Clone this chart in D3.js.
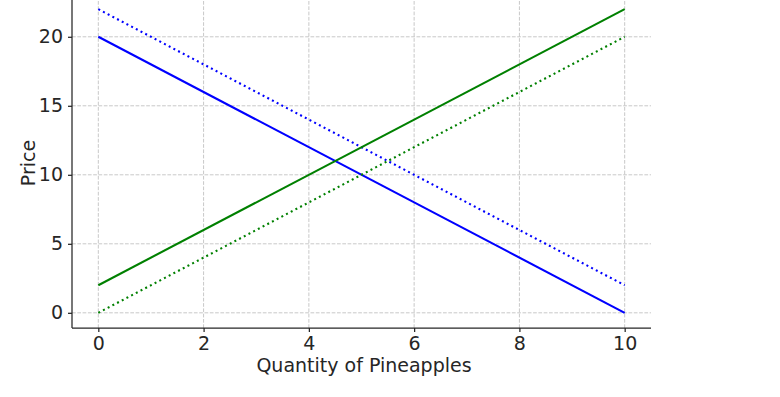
<!DOCTYPE html>
<html><head><meta charset="utf-8">
<script src="https://cdn.jsdelivr.net/npm/d3@7"></script>
<style>body{margin:0;background:#fff}svg{display:block}text{font-family:"DejaVu Sans",sans-serif;fill:#262626}</style>
</head><body><svg id="c" width="780" height="397"></svg>
<script>
const quantity = [0, 10];
const demand = [20, 0];
const demandShift = [22, 2];
const supply = [2, 22];
const supplyShift = [0, 20];
const xTicks = [0, 2, 4, 6, 8, 10];
const yTicks = [0, 5, 10, 15, 20];

const svg = d3.select("#c");
const x = d3.scaleLinear().domain([-0.5, 10.5]).range([72, 651]);
const y = d3.scaleLinear().domain([-1.1, 23.1]).range([328, -6]);

const g = svg.append("g");
// grid
g.selectAll(".gx").data(xTicks).join("line")
  .attr("x1", d => x(d)).attr("x2", d => x(d)).attr("y1", y(-1.1)).attr("y2", 0)
  .attr("stroke", "#b0b0b0").attr("stroke-opacity", 0.7).attr("stroke-dasharray", "3.7,1.6").attr("stroke-width", 1);
g.selectAll(".gy").data(yTicks).join("line")
  .attr("x1", x(-0.5)).attr("x2", x(10.5)).attr("y1", d => y(d)).attr("y2", d => y(d))
  .attr("stroke", "#b0b0b0").attr("stroke-opacity", 0.7).attr("stroke-dasharray", "3.7,1.6").attr("stroke-width", 1);

const line = d3.line().x(d => x(d[0])).y(d => y(d[1]));
const series = [
  {v: demand, c: "#0000ff", dash: null},
  {v: demandShift, c: "#0000ff", dash: "2,3.3"},
  {v: supply, c: "#008000", dash: null},
  {v: supplyShift, c: "#008000", dash: "2,3.3"}
];
series.forEach(s => {
  g.append("path").datum(quantity.map((q, i) => [q, s.v[i]]))
    .attr("d", line).attr("fill", "none").attr("stroke", s.c).attr("stroke-width", 2.1)
    .attr("stroke-dasharray", s.dash);
});

// axes
const xAxis = d3.axisBottom(x).tickValues(xTicks).tickSize(4).tickPadding(5).tickFormat(d3.format("d"));
const yAxis = d3.axisLeft(y).tickValues(yTicks).tickSize(4).tickPadding(5).tickFormat(d3.format("d"));
const ax = svg.append("g").attr("transform", `translate(0,${y(-1.1)})`).call(xAxis);
const ay = svg.append("g").attr("transform", `translate(${x(-0.5)},0)`).call(yAxis);
[ax, ay].forEach(a => {
  a.attr("font-size", null).attr("font-family", null);
  a.selectAll(".tick line").attr("stroke", "#262626").attr("stroke-width", 1.25);
  a.selectAll(".tick text").style("font-size", "19px").style("fill", "#262626").style("font-family", "DejaVu Sans");
  a.select(".domain").remove();
});
svg.append("line").attr("x1", x(-0.5)).attr("x2", x(10.5)).attr("y1", y(-1.1)).attr("y2", y(-1.1)).attr("stroke", "#262626").attr("stroke-width", 1.25);
svg.append("line").attr("x1", x(-0.5)).attr("x2", x(-0.5)).attr("y1", y(-1.1)).attr("y2", 0).attr("stroke", "#262626").attr("stroke-width", 1.25);

svg.append("text").attr("x", 364).attr("y", 372).attr("text-anchor", "middle").style("font-size", "19px").text("Quantity of Pineapples");
svg.append("text").attr("transform", "translate(35,163) rotate(-90)").attr("text-anchor", "middle").style("font-size", "19px").text("Price");
</script></body></html>
